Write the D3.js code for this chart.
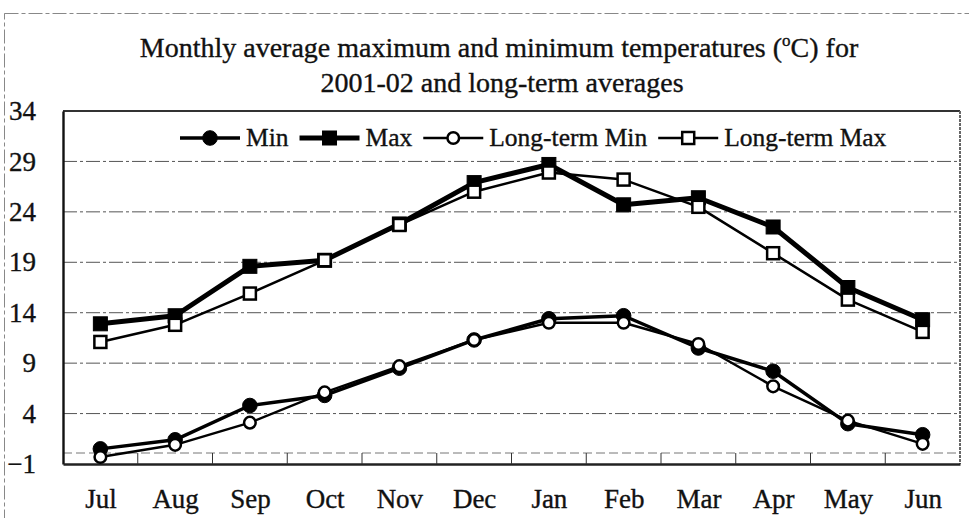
<!DOCTYPE html>
<html><head><meta charset="utf-8">
<script src="https://cdn.jsdelivr.net/npm/d3@7"></script>
<style>
body{margin:0;background:#fff}
svg{display:block}
svg text{font-family:"Liberation Serif","Times New Roman",serif !important;fill:#111;stroke:#111;stroke-width:0.35px}
</style>
</head><body>
<svg id="c" width="969" height="518"></svg>
<script>
// ---- data ----
const months = ["Jul","Aug","Sep","Oct","Nov","Dec","Jan","Feb","Mar","Apr","May","Jun"];
const minVals   = [0.5, 1.4, 4.8, 5.8, 8.5, 11.3, 13.4, 13.7, 10.5, 8.2, 3.0, 1.9];
const maxVals   = [12.9, 13.7, 18.6, 19.2, 22.8, 26.9, 28.7, 24.7, 25.4, 22.5, 16.5, 13.3];
const ltMinVals = [-0.3, 0.9, 3.1, 6.1, 8.7, 11.3, 13.0, 13.0, 10.9, 6.7, 3.3, 1.0];
const ltMaxVals = [11.1, 12.8, 15.9, 19.2, 22.7, 26.0, 27.9, 27.2, 24.5, 19.9, 15.3, 12.1];
const seriesNames = ["Min", "Max", "Long-term Min", "Long-term Max"];
const yTicks = [-1, 4, 9, 14, 19, 24, 29, 34];
const titleLines = ["Monthly average maximum and minimum temperatures (", "C) for", "2001-02 and long-term averages"];

// ---- layout ----
const svg = d3.select("#c").attr("font-family", '"Liberation Serif",serif');
const L = 63, R = 960, T = 111, B = 464;
const x = d3.scalePoint().domain(months).range([L, R]).padding(0.5);
const y = d3.scaleLinear().domain([-1, 34]).range([B, T]);

// outer dashed border
svg.append("rect").attr("x", 4.5).attr("y", 13.5).attr("width", 975).attr("height", 540)
  .attr("fill", "none").attr("stroke", "#888").attr("stroke-width", 1).attr("stroke-dasharray", "14,3,4,3");

// title
const t1 = svg.append("text").attr("x", 499).attr("y", 57).attr("text-anchor", "middle")
  .style("font-size", "28px");
t1.append("tspan").text(titleLines[0]);
t1.append("tspan").attr("dy", -11).style("font-size", "17px").text("o");
t1.append("tspan").attr("dy", 11).text(titleLines[1]);
svg.append("text").attr("x", 502).attr("y", 92).attr("text-anchor", "middle")
  .style("font-size", "28px").text(titleLines[2]);

// gridlines
svg.append("g").selectAll("line").data(yTicks.filter(d => d > -1 && d < 34)).join("line")
  .attr("x1", L).attr("x2", R).attr("y1", d => y(d)).attr("y2", d => y(d))
  .attr("stroke", "#555").attr("stroke-width", 1).attr("stroke-dasharray", "14,3,3,3");

// faint line at top of x ticks
svg.append("line").attr("x1", L).attr("x2", R).attr("y1", B - 11).attr("y2", B - 11)
  .attr("stroke", "#777").attr("stroke-width", 1).attr("stroke-dasharray", "9,4");

// plot frame: top and right
svg.append("line").attr("x1", L).attr("x2", R).attr("y1", T).attr("y2", T)
  .attr("stroke", "#333").attr("stroke-width", 2);
svg.append("line").attr("x1", R).attr("x2", R).attr("y1", T).attr("y2", B)
  .attr("stroke", "#666").attr("stroke-width", 2).attr("stroke-dasharray", "3,1");

// y axis
const yAxis = d3.axisLeft(y).tickValues(yTicks).tickSize(0).tickPadding(27).tickFormat(d3.format("d"));
const gy = svg.append("g").attr("transform", `translate(${L},0)`).call(yAxis).attr("font-family", null);
gy.select(".domain").attr("stroke", "#111").attr("stroke-width", 2.4);
gy.selectAll("text").style("font-size", "27px").attr("fill", "#111");

// x axis with boundary ticks
const gx = svg.append("g").attr("transform", `translate(0,${B})`)
  .call(d3.axisBottom(x).tickSize(0).tickPadding(25)).attr("font-family", null);
gx.select(".domain").attr("stroke", "#222").attr("stroke-width", 2.4);
gx.selectAll("text").style("font-size", "27px").attr("fill", "#111");
const step = x.step();
svg.append("g").selectAll("line").data(months.slice(1)).join("line")
  .attr("x1", d => x(d) - step / 2).attr("x2", d => x(d) - step / 2)
  .attr("y1", B).attr("y2", B - 11).attr("stroke", "#333").attr("stroke-width", 1);

// series
const series = [
  {name: seriesNames[0], vals: minVals,   lw: 3.5, shape: "circle", fill: true,  size: 7.3},
  {name: seriesNames[1], vals: maxVals,   lw: 5,   shape: "square", fill: true,  size: 14},
  {name: seriesNames[2], vals: ltMinVals, lw: 2.5, shape: "circle", fill: false, size: 5.8},
  {name: seriesNames[3], vals: ltMaxVals, lw: 2.5, shape: "square", fill: false, size: 12}
];
const line = d3.line().x((d, i) => x(months[i])).y(d => y(d));

function drawMarker(g, s, cx, cy) {
  if (s.shape === "circle") {
    g.append("circle").attr("cx", cx).attr("cy", cy).attr("r", s.size)
      .attr("fill", s.fill ? "#000" : "#fff").attr("stroke", "#000").attr("stroke-width", s.fill ? 1 : 2.5);
  } else {
    g.append("rect").attr("x", cx - s.size / 2).attr("y", cy - s.size / 2)
      .attr("width", s.size).attr("height", s.size)
      .attr("fill", s.fill ? "#000" : "#fff").attr("stroke", "#000").attr("stroke-width", s.fill ? 1 : 2.5);
  }
}

series.forEach(s => {
  const g = svg.append("g");
  g.append("path").datum(s.vals).attr("d", line).attr("fill", "none")
    .attr("stroke", "#000").attr("stroke-width", s.lw).attr("stroke-linejoin", "round");
  s.vals.forEach((v, i) => drawMarker(g, s, x(months[i]), y(v)));
});

// legend
const lg = svg.append("g");
let lx = 180;
const ly = 138;
series.forEach(s => {
  const segLen = 60;
  lg.append("line").attr("x1", lx).attr("x2", lx + segLen).attr("y1", ly).attr("y2", ly)
    .attr("stroke", "#000").attr("stroke-width", s.lw);
  drawMarker(lg, s, lx + segLen / 2, ly);
  const txt = lg.append("text").attr("x", lx + segLen + 6).attr("y", ly + 8)
    .style("font-size", "25.5px").text(s.name);
  lx += segLen + 6 + txt.node().getComputedTextLength() + 11;
});
</script>
</body></html>
